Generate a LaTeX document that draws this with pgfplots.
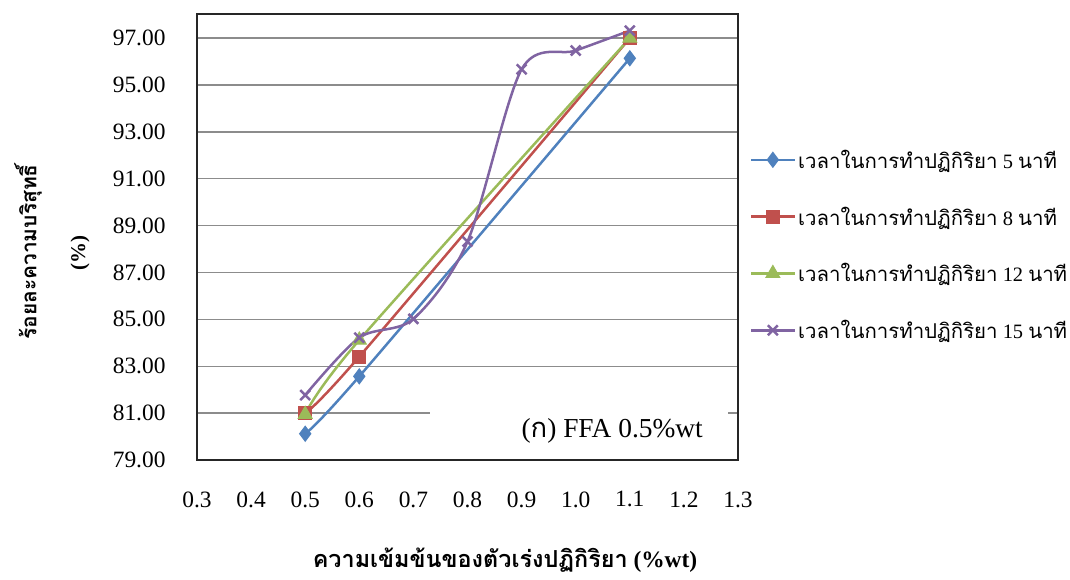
\documentclass[border=0pt]{standalone}
\usepackage{fontspec}
\setmainfont{Liberation Serif}
\newfontfamily\thai[Script=Thai]{Loma}
\usepackage{pgfplots}
\pgfplotsset{compat=1.18}
\definecolor{cBlue}{HTML}{4F81BD}
\definecolor{cRed}{HTML}{C0504D}
\definecolor{cGreen}{HTML}{9BBB59}
\definecolor{cPurple}{HTML}{8064A2}
\begin{document}
\begin{tikzpicture}
\path[use as bounding box] (0bp,0bp) rectangle (1070bp,580bp);
\begin{axis}[
  at={(197bp,120bp)}, anchor=south west,
  scale only axis, width=541bp, height=446bp,
  xmin=0.3, xmax=1.3, ymin=79, ymax=98.03,
  xtick={0.3,0.4,0.5,0.6,0.7,0.8,0.9,1.0,1.1,1.2,1.3},
  xticklabels={0.3,0.4,0.5,0.6,0.7,0.8,0.9,1.0,1.1,1.2,1.3},
  ytick={79,81,83,85,87,89,91,93,95,97},
  yticklabels={79.00,81.00,83.00,85.00,87.00,89.00,91.00,93.00,95.00,97.00},
  ymajorgrids,
  grid style={draw=black!45, line width=1.3bp},
  major tick style={draw=none},
  axis line style={line width=2.5bp, draw=black!85},
  ticklabel style={font=\fontsize{23.5}{23.5}\selectfont},
  xticklabel style={yshift=-28bp},
  yticklabel style={xshift=-28bp},
  legend cell align=left,
  legend style={at={(1.022,0.482)}, anchor=west, draw=none, fill=none,
    inner sep=0pt, row sep=32bp,
    font=\fontsize{20.5}{20.5}\selectfont,
    nodes={inner sep=2.5bp}},
  legend image code/.code={\draw[mark repeat=2,mark phase=2,#1] plot coordinates {(0bp,0bp) (21.5bp,0bp) (43bp,0bp)};},
]
\fill[white] (axis cs:0.7307,79.15) rectangle (axis cs:1.2815,81.75);
\node[anchor=base east, font=\fontsize{27.5}{27.5}\selectfont, inner sep=0pt] at (axis cs:1.2353,79.98) {({\thai ก}) FFA 0.5\%wt};

\addplot[cBlue, line width=2.5bp, smooth, mark=diamond*, mark size=7.5bp, mark options={solid, fill=cBlue, line width=1bp}]
  coordinates {(0.5,80.12) (0.6,82.57) (1.1,96.14)};
\addlegendentry{{\thai เวลาในการทำปฏิกิริยา} 5 {\thai นาที}}
\addplot[cRed, line width=2.5bp, smooth, mark=square*, mark size=6.5bp, mark options={solid, fill=cRed, line width=1bp}]
  coordinates {(0.5,81.00) (0.6,83.41) (1.1,97.00)};
\addlegendentry{{\thai เวลาในการทำปฏิกิริยา} 8 {\thai นาที}}
\addplot[cGreen, line width=2.5bp, smooth, mark=triangle*, mark size=8bp, mark options={solid, fill=cGreen, line width=1bp}]
  coordinates {(0.5,80.95) (0.6,84.12) (1.1,97.00)};
\addlegendentry{{\thai เวลาในการทำปฏิกิริยา} 12 {\thai นาที}}
\addplot[cPurple, line width=2.5bp, smooth, tension=0.5, mark=x, mark size=7bp, mark options={solid, line width=2.5bp}]
  coordinates {(0.5,81.77) (0.6,84.22) (0.7,85.02) (0.8,88.32) (0.9,95.67) (1.0,96.47) (1.1,97.32)};
\addlegendentry{{\thai เวลาในการทำปฏิกิริยา} 15 {\thai นาที}}
\end{axis}
\node[rotate=90, font=\fontsize{21}{21}\selectfont\bfseries] at (28bp,328bp) {\thai ร้อยละความบริสุทธิ์};
\node[rotate=90, font=\fontsize{21}{21}\selectfont\bfseries] at (80bp,327bp) {(\%)};
\node[font=\fontsize{23.5}{23.5}\selectfont\bfseries] at (505bp,20bp) {{\thai ความเข้มข้นของตัวเร่งปฏิกิริยา} (\%wt)};
\end{tikzpicture}
\end{document}
